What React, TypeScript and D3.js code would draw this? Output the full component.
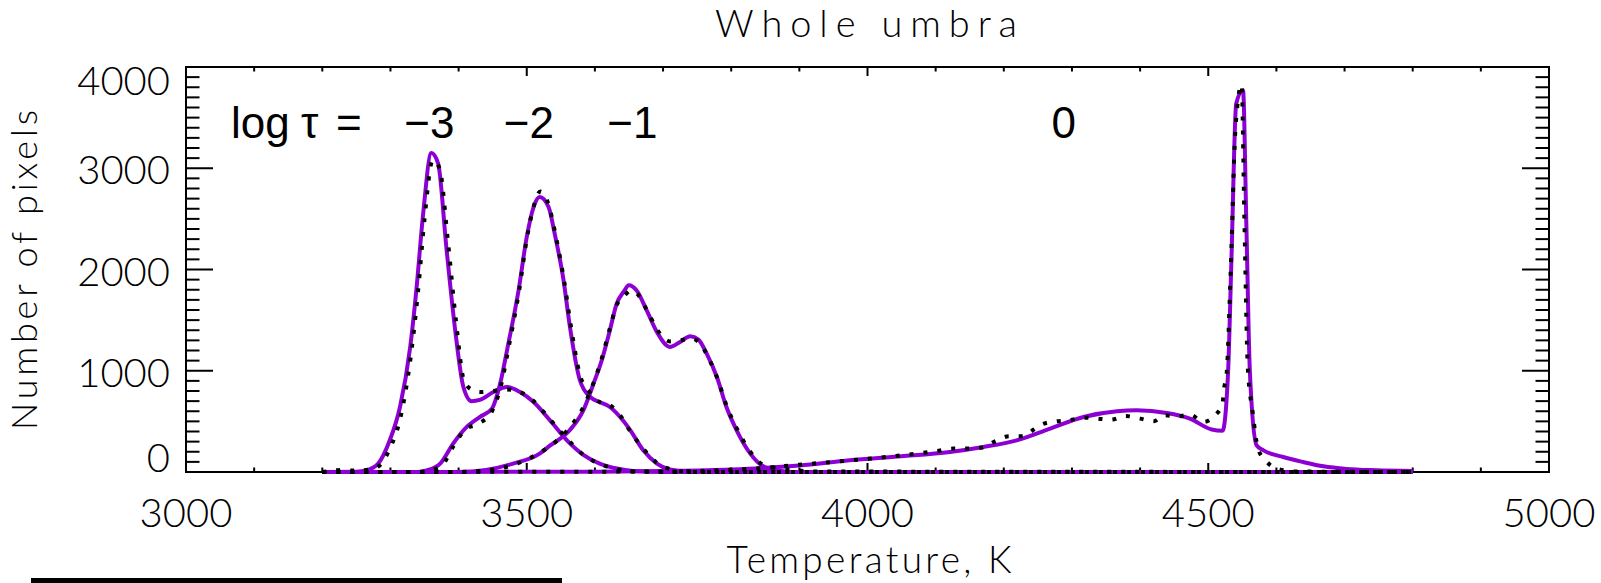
import React from 'react';
import * as d3 from 'd3';

// ---------- data ----------
const title = 'Whole umbra';
const xTitle = 'Temperature, K';
const yTitle = 'Number of pixels';
const xTicks = [3000, 3500, 4000, 4500, 5000];
const yTicks = [0, 1000, 2000, 3000, 4000];
const levelLabels = ['−3', '−2', '−1', '0'];
const levelLabelT = [3357, 3503, 3655, 4288];

// histograms (dotted) and fits (purple) for log tau = -3, -2, -1, 0  [T, N]
const histM3: [number, number][] = [
  [3200, 0], [3215, 12], [3230, 22], [3245, 14], [3265, 20], [3282, 55], [3299, 230], [3314, 520],
  [3329, 1100], [3340, 1750], [3350, 2500], [3362, 3080], [3372, 3000], [3384, 2300], [3396, 1500],
  [3408, 900], [3420, 810], [3432, 790], [3450, 800], [3470, 815], [3490, 790], [3510, 700],
  [3534, 520], [3559, 330], [3583, 170], [3607, 80], [3632, 30], [3660, 5], [3700, 0], [4800, 0],
];
const fitM3: [number, number][] = [
  [3200, 0], [3250, 3], [3265, 17], [3282, 83], [3299, 313], [3314, 642], [3329, 1235], [3338, 1795],
  [3348, 2552], [3360, 3150], [3370, 3046], [3382, 2222], [3395, 1400], [3407, 840], [3419, 700],
  [3431, 712], [3451, 790], [3471, 840], [3490, 790], [3510, 691], [3534, 511], [3559, 313],
  [3583, 170], [3607, 83], [3632, 34], [3656, 10], [3700, 0], [4800, 0],
];
const histM2: [number, number][] = [
  [3200, 0], [3340, 0], [3360, 20], [3375, 60], [3392, 250], [3410, 420], [3430, 480], [3449, 600],
  [3462, 850], [3474, 1250], [3489, 1800], [3500, 2300], [3510, 2620], [3520, 2770], [3532, 2640],
  [3542, 2350], [3555, 1880], [3565, 1430], [3578, 960], [3592, 790], [3607, 690], [3622, 660],
  [3637, 560], [3652, 400], [3671, 230], [3691, 90], [3710, 30], [3740, 0], [4800, 0],
];
const fitM2: [number, number][] = [
  [3200, 0], [3340, 0], [3353, 15], [3373, 83], [3392, 280], [3412, 445], [3431, 543], [3449, 626],
  [3461, 873], [3473, 1268], [3488, 1795], [3500, 2321], [3510, 2617], [3519, 2716], [3532, 2617],
  [3541, 2354], [3554, 1893], [3563, 1450], [3578, 906], [3593, 741], [3607, 691], [3622, 642],
  [3637, 543], [3652, 412], [3671, 214], [3691, 83], [3710, 24], [3740, 0], [4800, 0],
];
const histM1: [number, number][] = [
  [3200, 0], [3400, 0], [3440, 15], [3480, 70], [3519, 190], [3534, 255], [3563, 440], [3583, 640],
  [3598, 880], [3610, 1120], [3622, 1420], [3632, 1650], [3644, 1745], [3652, 1790], [3662, 1760],
  [3677, 1590], [3692, 1400], [3710, 1290], [3725, 1300], [3740, 1320], [3753, 1280], [3765, 1150],
  [3780, 920], [3794, 640], [3809, 420], [3828, 200], [3847, 70], [3867, 40], [3890, 20], [3930, 5],
  [4800, 0],
];
const fitM1: [number, number][] = [
  [3200, 0], [3400, 0], [3440, 20], [3480, 83], [3519, 182], [3534, 260], [3563, 412], [3583, 609],
  [3598, 873], [3610, 1103], [3622, 1400], [3632, 1663], [3642, 1778], [3650, 1844], [3661, 1795],
  [3676, 1597], [3691, 1383], [3710, 1235], [3725, 1284], [3740, 1340], [3752, 1308], [3764, 1169],
  [3779, 938], [3793, 642], [3808, 412], [3828, 182], [3847, 56], [3867, 17], [3890, 0], [4800, 0],
];
const hist0: [number, number][] = [
  [3200, 0], [3700, 5], [3800, 22], [3850, 40], [3900, 72], [3950, 100], [4000, 130], [4050, 165],
  [4100, 205], [4126, 231], [4148, 231], [4168, 241], [4187, 303], [4208, 353], [4228, 353],
  [4244, 419], [4259, 478], [4278, 501], [4296, 511], [4317, 537], [4338, 527], [4358, 517],
  [4379, 553], [4400, 527], [4420, 501], [4436, 560], [4455, 550], [4473, 567], [4493, 494],
  [4510, 560], [4521, 676], [4523, 814], [4527, 972], [4533, 2000], [4540, 3400], [4549, 3826],
  [4553, 2500], [4558, 1037], [4565, 600], [4573, 231], [4584, 116], [4600, 34], [4630, 5], [4800, 0],
];
const fit0: [number, number][] = [
  [3200, 0], [3600, 3], [3700, 10], [3800, 25], [3847, 40], [3900, 65], [3974, 116], [4050, 155],
  [4121, 198], [4170, 247], [4219, 313], [4268, 429], [4317, 543], [4366, 600], [4395, 609],
  [4439, 583], [4473, 527], [4505, 420], [4521, 408], [4529, 972], [4534, 2091], [4541, 3638],
  [4551, 3770], [4556, 2420], [4561, 1004], [4571, 264], [4581, 214], [4610, 148], [4639, 99],
  [4669, 56], [4703, 30], [4747, 17], [4800, 10],
];

const histSeries = [histM3, histM2, histM1, hist0];
const fitSeries = [fitM3, fitM2, fitM1, fit0];

// ---------- layout ----------
const W = 1601;
const H = 583;
const L = 186, R = 1549, T = 67, B = 472;
const PURPLE = '#8c00d3';
const THIN = "'Lato', 'DejaVu Sans', sans-serif";

export default function App() {
  const x = d3.scaleLinear().domain([3000, 5000]).range([L, R]);
  const y = d3.scaleLinear().domain([0, 4000]).range([B, T]);
  const line = d3.line<[number, number]>().x(d => x(d[0])).y(d => y(d[1])).curve(d3.curveMonotoneX);

  const xMinor = d3.range(3000, 5001, 100).filter(v => !xTicks.includes(v));
  const yMinor = d3.range(0, 4001, 100).filter(v => !yTicks.includes(v));

  const yLabelBase = (v: number) => Math.min(B, Math.max(T + 28, y(v) + 16));

  return (
    <svg width={W} height={H} style={{ position: 'absolute', left: 0, top: 0, background: '#fff' }}>
      <rect x={0} y={0} width={W} height={H} fill="#fff" />
      {/* frame */}
      <rect x={L} y={T} width={R - L} height={B - T} fill="none" stroke="#000" strokeWidth={2} />
      {/* x ticks */}
      {xTicks.map(v => (
        <g key={'xt' + v}>
          <line x1={x(v)} x2={x(v)} y1={B} y2={B - 9} stroke="#000" strokeWidth={2} />
          <line x1={x(v)} x2={x(v)} y1={T} y2={T + 9} stroke="#000" strokeWidth={2} />
          <text x={x(v)} y={527} textAnchor="middle" fontFamily={THIN} fontWeight={300} fontSize={40} fill="#000">{v}</text>
        </g>
      ))}
      {xMinor.map(v => (
        <g key={'xm' + v}>
          <line x1={x(v)} x2={x(v)} y1={B} y2={B - 4.5} stroke="#000" strokeWidth={2} />
          <line x1={x(v)} x2={x(v)} y1={T} y2={T + 4.5} stroke="#000" strokeWidth={2} />
        </g>
      ))}
      {/* y ticks */}
      {yTicks.map(v => (
        <g key={'yt' + v}>
          <line x1={L} x2={L + 27} y1={y(v)} y2={y(v)} stroke="#000" strokeWidth={2} />
          <line x1={R} x2={R - 27} y1={y(v)} y2={y(v)} stroke="#000" strokeWidth={2} />
          <text x={170} y={yLabelBase(v)} textAnchor="end" fontFamily={THIN} fontWeight={300} fontSize={40} fill="#000">{v}</text>
        </g>
      ))}
      {yMinor.map(v => (
        <g key={'ym' + v}>
          <line x1={L} x2={L + 13.5} y1={y(v)} y2={y(v)} stroke="#000" strokeWidth={2} />
          <line x1={R} x2={R - 13.5} y1={y(v)} y2={y(v)} stroke="#000" strokeWidth={2} />
        </g>
      ))}
      {/* titles */}
      <text x={866} y={37} textAnchor="middle" fontFamily={THIN} fontWeight={300} fontSize={38}
        textLength={302} lengthAdjust="spacing" fill="#000">{title}</text>
      <text x={869} y={573} textAnchor="middle" fontFamily={THIN} fontWeight={300} fontSize={37}
        textLength={285} lengthAdjust="spacing" fill="#000">{xTitle}</text>
      <text transform={`translate(37,270) rotate(-90)`} textAnchor="middle" fontFamily={THIN} fontWeight={300}
        fontSize={36} textLength={320} lengthAdjust="spacing" fill="#000">{yTitle}</text>

      {/* curves */}
      {fitSeries.map((s, i) => (
        <path key={'f' + i} d={line(s) || ''} fill="none" stroke={PURPLE} strokeWidth={4} strokeLinejoin="round" />
      ))}
      {histSeries.map((s, i) => (
        <path key={'h' + i} d={line(s) || ''} fill="none" stroke="#000" strokeWidth={4} strokeDasharray="4 10" />
      ))}

      {/* log tau labels */}
      <g fontFamily="'Liberation Sans', Arial, sans-serif" fontSize={44} fill="#000">
        <text x={231} y={138}>log</text>
        <text x={301} y={138}>τ</text>
        <text x={336} y={138}>=</text>
        {levelLabels.map((lab, i) => (
          <text key={lab} x={x(levelLabelT[i])} y={138} textAnchor="middle">{lab}</text>
        ))}
      </g>

      {/* cropped bar at bottom-left */}
      <rect x={31} y={578} width={531} height={5} fill="#000" />
    </svg>
  );
}
